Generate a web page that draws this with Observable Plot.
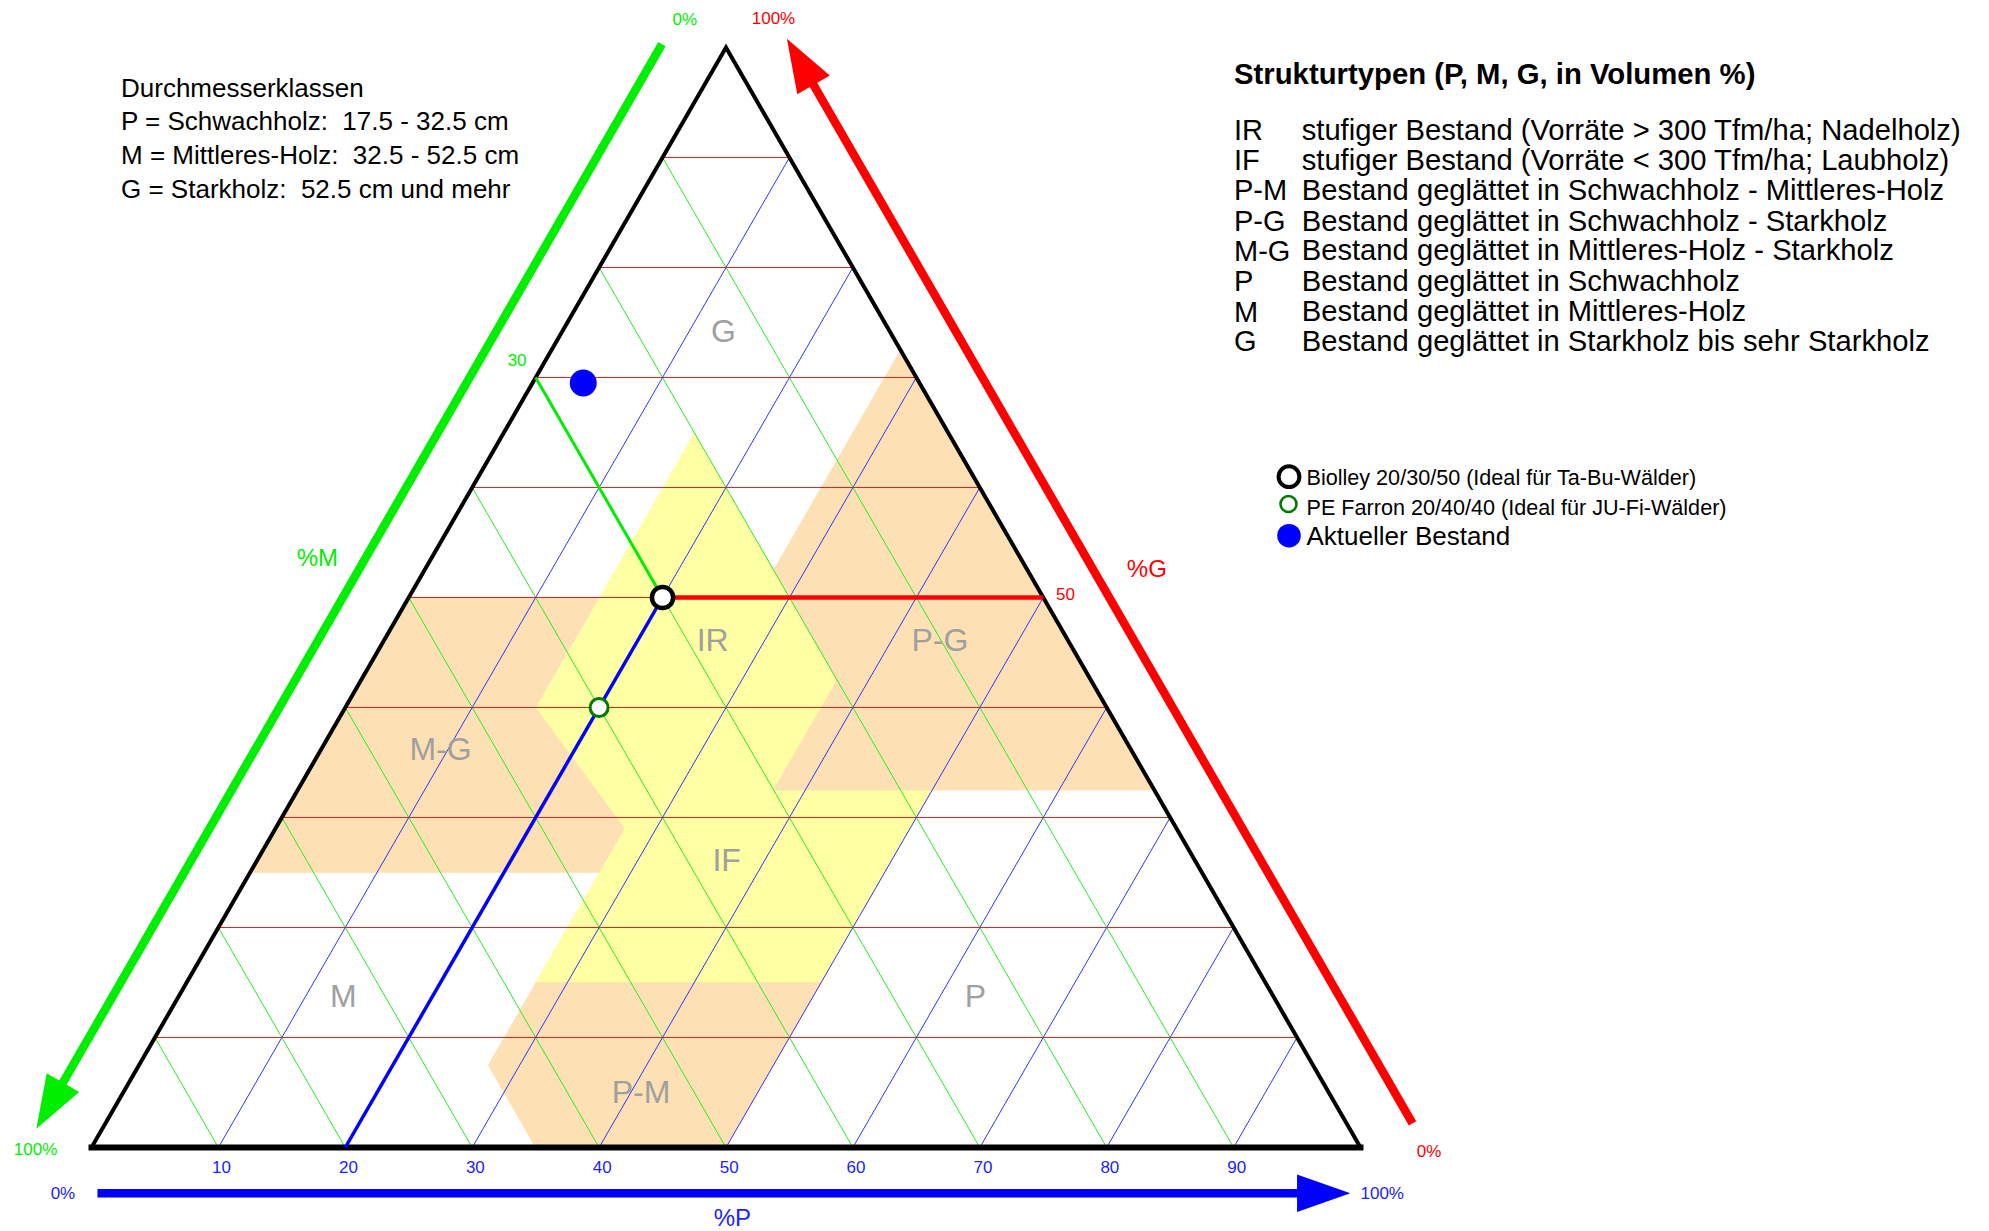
<!DOCTYPE html>
<html><head><meta charset="utf-8">
<script src="https://cdn.jsdelivr.net/npm/d3@7"></script>
<script src="https://cdn.jsdelivr.net/npm/@observablehq/plot@0.6"></script>
<style>
html,body{margin:0;padding:0;background:#fff;}
#wrap{position:relative;width:1989px;height:1231px;font-family:"Liberation Sans",Arial,sans-serif;overflow:hidden;}
#chart{position:absolute;left:0;top:0;}
</style></head>
<body>
<div id="wrap"><div id="chart"></div></div>
<script>
// ---------------- DATA ----------------
const gridValues = [10, 20, 30, 40, 50, 60, 70, 80, 90];
const tickLabels = ["10", "20", "30", "40", "50", "60", "70", "80", "90"];

// regions as [P, M, G] vertices
const regionIRIF = [[15,20,65],[37.5,20,42.5],[37.5,30,32.5],[50,17.5,32.5],[50,35,15],[27.5,57.5,15],[27.5,43.5,29],[15,45,40]];
const regionMG = [[0,50,50],[15,35,50],[15,45,40],[27.5,43.5,29],[27.5,47.5,25],[0,75,25]];
const regionPG = [[27.5,0,72.5],[27.5,20,52.5],[37.5,20,42.5],[37.5,30,32.5],[67.5,0,32.5]];
const regionPM = [[27.5,57.5,15],[50,35,15],[50,50,0],[35,65,0],[27.5,65,7.5]];

const regionLabelNames = ["G", "IR", "P-G", "M-G", "IF", "M", "P", "P-M"];
const regionLabelP = [12.7, 25.9, 43.8, 9.4, 37, 13, 62.8, 40.8];
const regionLabelG = [74.2, 46.1, 46.1, 36.2, 26.1, 13.7, 13.7, 5.0];

const pointNames = ["Biolley 20/30/50 (Ideal für Ta-Bu-Wälder)", "PE Farron 20/40/40 (Ideal für JU-Fi-Wälder)", "Aktueller Bestand"];
const pointP = [20, 20, 4];
const pointM = [30, 40, 26.5];
const pointG = [50, 40, 69.5];

const diameterLines = ["Durchmesserklassen", "P = Schwachholz:  17.5 - 32.5 cm", "M = Mittleres-Holz:  32.5 - 52.5 cm", "G = Starkholz:  52.5 cm und mehr"];
const structureTitle = "Strukturtypen (P, M, G, in Volumen %)";
const structureCodes = ["IR", "IF", "P-M", "P-G", "M-G", "P", "M", "G"];
const structureDescriptions = [
  "stufiger Bestand (Vorräte > 300 Tfm/ha; Nadelholz)",
  "stufiger Bestand (Vorräte < 300 Tfm/ha; Laubholz)",
  "Bestand geglättet in Schwachholz - Mittleres-Holz",
  "Bestand geglättet in Schwachholz - Starkholz",
  "Bestand geglättet in Mittleres-Holz - Starkholz",
  "Bestand geglättet in Schwachholz",
  "Bestand geglättet in Mittleres-Holz",
  "Bestand geglättet in Starkholz bis sehr Starkholz"
];

// ---------------- GEOMETRY HELPERS ----------------
const S = Math.sqrt(3) / 2;
const tx = (P, G) => P + G / 2;
const ty = (G) => G * S;
const toXY = ([P, M, G]) => ({x: tx(P, G), y: ty(G)});

const GREEN = "#00ee00", RED = "#ff0000", BLUE = "#0000ff";
const ORANGE = "#fde0b3", YELLOW = "#ffffa3", GREY = "#a0a0a0";

const yellowPoly = regionIRIF.map(v => ({...toXY(v), region: "IR/IF"}));
const orangePolys = [["M-G", regionMG], ["P-G", regionPG], ["P-M", regionPM]]
  .flatMap(([name, verts]) => verts.map(v => ({...toXY(v), region: name})));

const grid = gridValues.flatMap(v => [
  {axis: "G", x1: tx(0, v), y1: ty(v), x2: tx(100 - v, v), y2: ty(v)},
  {axis: "M", x1: tx(0, 100 - v), y1: ty(100 - v), x2: tx(100 - v, 0), y2: ty(0)},
  {axis: "P", x1: tx(v, 100 - v), y1: ty(100 - v), x2: tx(v, 0), y2: ty(0)}
]);

const labels = regionLabelNames.map((t, i) => ({t, x: tx(regionLabelP[i], regionLabelG[i]), y: ty(regionLabelG[i])}));

const points = pointNames.map((name, i) => ({name, P: pointP[i], M: pointM[i], G: pointG[i], x: tx(pointP[i], pointG[i]), y: ty(pointG[i])}));
const bio = points[0];
const guides = [
  {c: GREEN, w: 3, x1: bio.x, y1: bio.y, x2: tx(0, 100 - bio.M), y2: ty(100 - bio.M)},
  {c: RED, w: 4.5, x1: bio.x, y1: bio.y, x2: tx(100 - bio.G, bio.G), y2: ty(bio.G)},
  {c: BLUE, w: 3.5, x1: bio.x, y1: bio.y, x2: tx(bio.P, 0), y2: ty(0)}
];

const corners = {A: {x: tx(0, 0), y: ty(0)}, B: {x: tx(100, 0), y: ty(0)}, C: {x: tx(0, 100), y: ty(100)}};

// axis arrows (outside the triangle): M along P=-5.2, G along M=-5.2, P along G=-4.16
function arrow(start, tip, color) {
  const dx = tip.x - start.x, dy = tip.y - start.y, L = Math.hypot(dx, dy);
  const ux = dx / L, uy = dy / L, headLen = 4.2, half = 1.48;
  const bx = tip.x - ux * headLen, by = tip.y - uy * headLen;
  return {
    color,
    shaft: [start, {x: bx + ux * 0.6, y: by + uy * 0.6}],
    head: [tip, {x: bx - uy * half, y: by + ux * half}, {x: bx + uy * half, y: by - ux * half}]
  };
}
const arrows = [
  arrow({x: tx(-5.2, 100.3), y: ty(100.3)}, {x: tx(-5.2, 1.7), y: ty(1.7)}, GREEN),
  arrow({x: tx(105.2 - 2.2, 2.2), y: ty(2.2)}, {x: tx(105.2 - 100.8, 100.8), y: ty(100.8)}, RED),
  arrow({x: tx(2.55, -4.16), y: ty(-4.16)}, {x: tx(101.28, -4.16), y: ty(-4.16)}, BLUE)
];
const arrowShafts = arrows.flatMap((a, i) => a.shaft.map(p => ({...p, k: i, c: a.color})));
const arrowHeads = arrows.flatMap((a, i) => a.head.map(p => ({...p, k: i, c: a.color})));

// axis texts (u, g positions)
const axisSmall = [
  {t: "0%", u: 46.75, g: 102.5, c: GREEN},
  {t: "100%", u: 53.74, g: 102.6, c: RED},
  {t: "100%", u: -4.41, g: -0.2, c: GREEN},
  {t: "0%", u: -2.25, g: -4.16, c: "#2222ff"},
  {t: "0%", u: 105.4, g: -0.4, c: RED},
  {t: String(bio.M), u: 33.54, g: 71.55, c: GREEN}
].map(d => ({...d, x: d.u, y: ty(d.g)}));
const axisSmallStart = [
  {t: "100%", u: 100.0, g: -4.16, c: "#2222ff"},
  {t: String(bio.G), u: 76.0, g: 50.3, c: RED}
].map(d => ({...d, x: d.u, y: ty(d.g)}));
const axisBig = [
  {t: "%M", u: 17.8, g: 53.6, c: GREEN},
  {t: "%G", u: 83.16, g: 52.6, c: RED},
  {t: "%P", u: 50.5, g: -6.43, c: "#2222ff"}
].map(d => ({...d, x: d.u, y: ty(d.g)}));
const ticks = gridValues.map((v, i) => ({t: tickLabels[i], x: v + 0.25, y: ty(-1.78)}));

// ---------------- PLOT ----------------
const chart = Plot.plot({
  width: 1989, height: 1231,
  marginLeft: 91, marginRight: 629, marginTop: 47, marginBottom: 84,
  x: {domain: [0, 100], axis: null},
  y: {domain: [0, 100 * S], axis: null},
  style: {fontFamily: "'Liberation Sans', Arial, sans-serif", background: "transparent", overflow: "visible"},
  marks: [
    Plot.line(yellowPoly, {x: "x", y: "y", z: "region", fill: YELLOW, stroke: YELLOW, strokeWidth: 0.6}),
    Plot.line(orangePolys, {x: "x", y: "y", z: "region", fill: ORANGE, stroke: ORANGE, strokeWidth: 0.6}),
    Plot.link(grid.filter(d => d.axis === "G"), {x1: "x1", y1: "y1", x2: "x2", y2: "y2", stroke: RED, strokeWidth: 1, strokeOpacity: 0.9}),
    Plot.link(grid.filter(d => d.axis === "M"), {x1: "x1", y1: "y1", x2: "x2", y2: "y2", stroke: "#22ee22", strokeWidth: 1}),
    Plot.link(grid.filter(d => d.axis === "P"), {x1: "x1", y1: "y1", x2: "x2", y2: "y2", stroke: "#3333ff", strokeWidth: 1}),
    Plot.text(labels, {x: "x", y: "y", text: "t", fill: GREY, fontSize: 32}),
    Plot.line([corners.A, corners.C, corners.B], {x: "x", y: "y", stroke: "#000", strokeWidth: 4, strokeLinejoin: "miter", strokeMiterlimit: 10, strokeLinecap: "butt"}),
    Plot.link([corners], {x1: d => d.A.x, y1: d => d.A.y, x2: d => d.B.x, y2: d => d.B.y, stroke: "#000", strokeWidth: 6, strokeLinecap: "square"}),
    Plot.link(guides, {x1: "x1", y1: "y1", x2: "x2", y2: "y2", stroke: "c", strokeWidth: "w"}),
    Plot.dot([points[0]], {x: "x", y: "y", r: 10.6, fill: "#fff", stroke: "#000", strokeWidth: 4.5}),
    Plot.dot([points[1]], {x: "x", y: "y", r: 9, fill: "#fff", stroke: "#007a00", strokeWidth: 3}),
    Plot.dot([points[2]], {x: "x", y: "y", r: 13.5, fill: BLUE, stroke: "none"}),
    Plot.line(arrowShafts, {x: "x", y: "y", z: "k", stroke: "c", strokeWidth: 8.5, strokeLinecap: "butt"}),
    Plot.line(arrowHeads, {x: "x", y: "y", z: "k", fill: d => d.c, stroke: "none"}),
    Plot.text(axisSmall, {x: "x", y: "y", text: "t", fill: "c", fontSize: 17}),
    Plot.text(axisSmallStart, {x: "x", y: "y", text: "t", fill: "c", fontSize: 17, textAnchor: "start"}),
    Plot.text(axisBig, {x: "x", y: "y", text: "t", fill: "c", fontSize: 24}),
    Plot.text(ticks, {x: "x", y: "y", text: "t", fill: "#2222ff", fontSize: 17})
  ]
});
document.getElementById("chart").appendChild(chart);

// ---------------- TEXT LEGENDS (HTML) ----------------
const wrap = document.getElementById("wrap");
function placeText(text, x, baseline, size, opts = {}) {
  const d = document.createElement("div");
  d.textContent = text;
  d.style.cssText = `position:absolute;left:${x}px;top:${baseline - 0.8465 * size}px;font-size:${size}px;line-height:${size}px;white-space:pre;color:${opts.color || "#000"};` + (opts.bold ? "font-weight:bold;" : "");
  wrap.appendChild(d);
}
const infoBaselines = [97, 130.5, 164, 198];
diameterLines.forEach((t, i) => placeText(t, 121, infoBaselines[i], 26));

placeText(structureTitle, 1234, 84, 29.3, {bold: true});
const typeBaselines = [140.4, 170.8, 200.9, 231.3, 261.2, 291.8, 322.1, 352];
structureCodes.forEach((c, i) => {
  placeText(c, 1234, typeBaselines[i], 29);
  placeText(structureDescriptions[i], 1301.7, typeBaselines[i], 29.2);
});

// point legend
const markerBaselines = [485, 515.5, 545.5];
const markerSizes = [21.6, 21.6, 26];
pointNames.forEach((t, i) => placeText(t, 1306.5, markerBaselines[i], markerSizes[i]));
const ns = "http://www.w3.org/2000/svg";
const msvg = document.createElementNS(ns, "svg");
msvg.setAttribute("width", 40); msvg.setAttribute("height", 100);
msvg.style.cssText = "position:absolute;left:1270px;top:455px;overflow:visible";
const markerStyles = [
  {cx: 19, cy: 21.7, r: 10.4, fill: "#fff", stroke: "#000", sw: 4},
  {cx: 18.5, cy: 49, r: 8, fill: "#fff", stroke: "#007a00", sw: 2.6},
  {cx: 19, cy: 80.7, r: 11.8, fill: BLUE, stroke: "none", sw: 0}
];
markerStyles.forEach(m => {
  const c = document.createElementNS(ns, "circle");
  c.setAttribute("cx", m.cx); c.setAttribute("cy", m.cy); c.setAttribute("r", m.r);
  c.setAttribute("fill", m.fill); c.setAttribute("stroke", m.stroke); c.setAttribute("stroke-width", m.sw);
  msvg.appendChild(c);
});
wrap.appendChild(msvg);
</script>
</body></html>
